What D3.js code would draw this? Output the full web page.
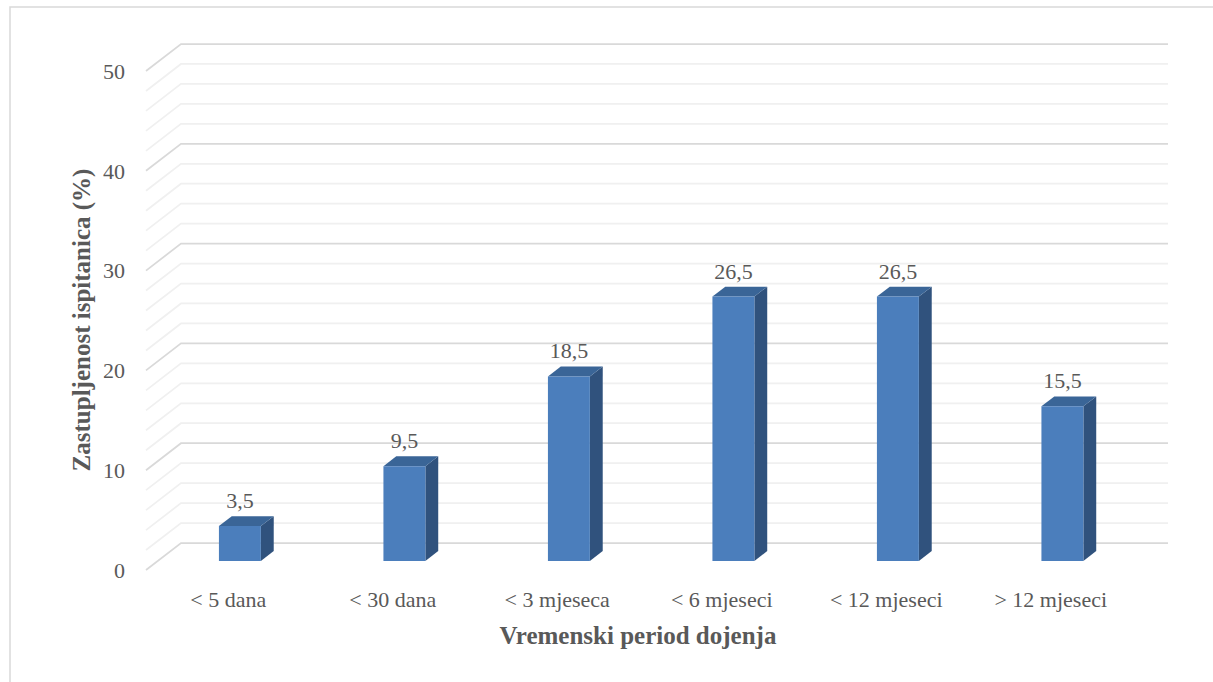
<!DOCTYPE html>
<html>
<head>
<meta charset="utf-8">
<script src="https://cdn.jsdelivr.net/npm/d3@7"></script>
<style>
  body { margin: 0; background: #fff; }
</style>
</head>
<body>
<div id="chart"></div>
<script>
// data
const categories = ["< 5 dana", "< 30 dana", "< 3 mjeseca", "< 6 mjeseci", "< 12 mjeseci", "> 12 mjeseci"];
const values = [3.5, 9.5, 18.5, 26.5, 26.5, 15.5];
const yTicks = [0, 10, 20, 30, 40, 50];

const WIDTH = 1213, HEIGHT = 682;
const ORIGIN = {x: 146, y: 570};   // front-left corner of the floor
const DEPTH = {x: 35, y: -27};     // offset front -> back wall
const PLOT_W = 987, PLOT_H = 499;
const BAR_FRONT = 0.333, BAR_BACK = 0.7;
const FONT = "'Liberation Serif', 'Times New Roman', 'DejaVu Serif', serif";
const TXT = "#595959";

const x = d3.scaleBand().domain(categories).range([0, PLOT_W]).paddingInner(0.745).paddingOuter(0.3725);
const y = d3.scaleLinear().domain([0, 50]).range([0, PLOT_H]);

// project (x, value, depth) to screen
function proj(px, v, d) {
    return [ORIGIN.x + px + DEPTH.x * d, ORIGIN.y - y(v) + DEPTH.y * d];
}

const svg = d3.select("#chart").append("svg").attr("width", WIDTH).attr("height", HEIGHT)
    .attr("font-family", FONT);

// outer border
svg.append("rect").attr("x", 10).attr("y", 7).attr("width", 1220).attr("height", 700)
    .attr("fill", "none").attr("stroke", "#d9d9d9").attr("stroke-width", 1.5);

// gridlines (side wall + back wall)
const grid = d3.range(0, 51, 2);
svg.append("g").selectAll("path").data(grid).enter().append("path")
    .attr("d", v => {
        const a = proj(0, v, 0), b = proj(0, v, 1), c = proj(PLOT_W, v, 1);
        return `M${a}L${b}L${c}`;
    })
    .attr("fill", "none")
    .attr("stroke", v => v % 10 === 0 ? "#d9d9d9" : "#f0f0f0")
    .attr("stroke-width", 1.75);

// y tick labels
svg.append("g").selectAll("text").data(yTicks).enter().append("text")
    .attr("x", 125)
    .attr("y", v => proj(0, v, 0)[1])
    .attr("dy", "0.35em")
    .attr("text-anchor", "end")
    .attr("font-family", FONT).attr("fill", TXT)
    .style("font-size", "22px")
    .text(d => d);

// bars
const bars = svg.append("g").selectAll("g").data(categories).enter().append("g");

bars.append("path") // side
    .attr("d", (c, i) => {
        const x1 = x(c) + x.bandwidth(), v = values[i];
        const p = [proj(x1, 0, BAR_FRONT), proj(x1, 0, BAR_BACK), proj(x1, v, BAR_BACK), proj(x1, v, BAR_FRONT)];
        return "M" + p.join("L") + "Z";
    })
    .attr("fill", "#30527d");

bars.append("path") // top
    .attr("d", (c, i) => {
        const x0 = x(c), x1 = x(c) + x.bandwidth(), v = values[i];
        const p = [proj(x0, v, BAR_FRONT), proj(x1, v, BAR_FRONT), proj(x1, v, BAR_BACK), proj(x0, v, BAR_BACK)];
        return "M" + p.join("L") + "Z";
    })
    .attr("fill", "#3a6597");

bars.append("path") // front
    .attr("d", (c, i) => {
        const x0 = x(c), x1 = x(c) + x.bandwidth(), v = values[i];
        const p = [proj(x0, 0, BAR_FRONT), proj(x1, 0, BAR_FRONT), proj(x1, v, BAR_FRONT), proj(x0, v, BAR_FRONT)];
        return "M" + p.join("L") + "Z";
    })
    .attr("fill", "#4b7ebc");

// value labels
bars.append("text")
    .attr("x", c => proj(x(c) + x.bandwidth() / 2, 0, BAR_FRONT)[0])
    .attr("y", (c, i) => proj(0, values[i], BAR_BACK)[1] - 8)
    .attr("text-anchor", "middle")
    .attr("font-family", FONT).attr("fill", TXT)
    .style("font-size", "22px")
    .text((c, i) => String(values[i]).replace(".", ","));

// category labels
svg.append("g").selectAll("text").data(categories).enter().append("text")
    .attr("x", c => ORIGIN.x + x(c) + x.bandwidth() / 2)
    .attr("y", ORIGIN.y + 37)
    .attr("text-anchor", "middle")
    .attr("font-family", FONT).attr("fill", TXT)
    .style("font-size", "22px")
    .text(c => c);

// axis titles
svg.append("text")
    .attr("x", 638).attr("y", 644)
    .attr("text-anchor", "middle")
    .attr("font-family", FONT).attr("fill", TXT)
    .style("font-size", "25px").style("font-weight", "bold")
    .text("Vremenski period dojenja");

svg.append("text")
    .attr("transform", "translate(90,320) rotate(-90)")
    .attr("text-anchor", "middle")
    .attr("font-family", FONT).attr("fill", TXT)
    .style("font-size", "25px").style("font-weight", "bold")
    .text("Zastupljenost ispitanica (%)");
</script>
</body>
</html>
